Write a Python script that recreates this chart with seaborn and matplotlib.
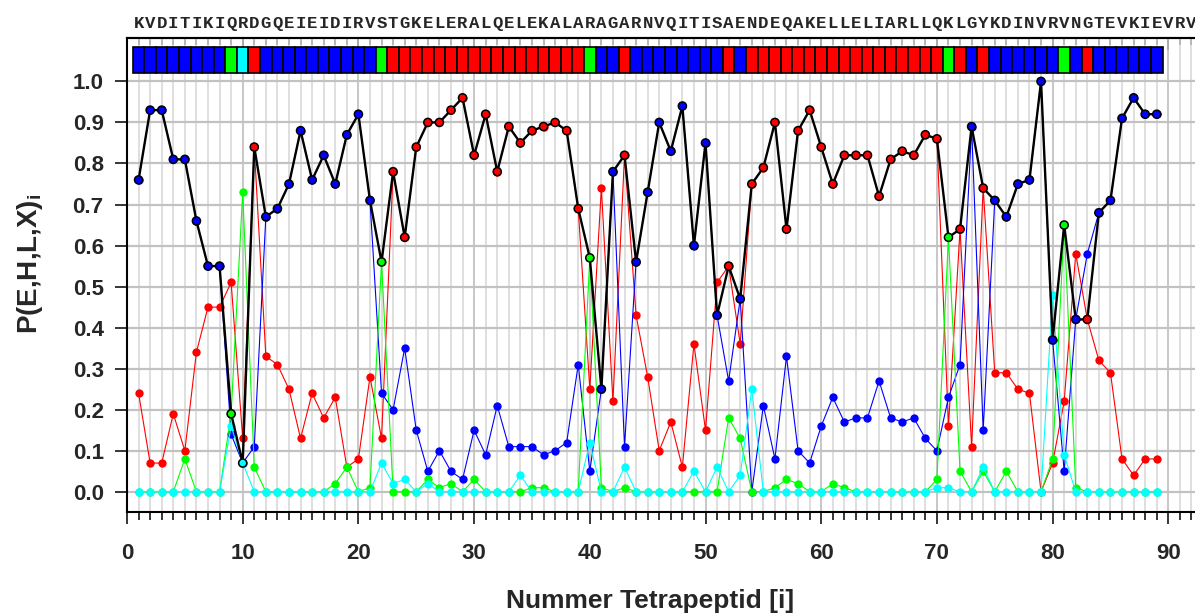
import matplotlib
matplotlib.use("Agg")
import matplotlib.pyplot as plt
import matplotlib.transforms as mtransforms
from matplotlib.ticker import MultipleLocator
import numpy as np
import pandas as pd
import seaborn as sns

# ---------------- data ----------------
sequence = "KVDITIKIQRDGQEIEIDIRVSTGKELERALQELEKALARAGARNVQITISAENDEQAKELLELIARLLQKLGYKDINVRVNGTEVKIEVRV"

positions = list(range(1, 90))

# P(E) – blue
p_E = [0.76, 0.93, 0.93, 0.81, 0.81, 0.66, 0.55, 0.55, 0.14, 0.07,
       0.11, 0.67, 0.69, 0.75, 0.88, 0.76, 0.82, 0.75, 0.87, 0.92,
       0.71, 0.24, 0.20, 0.35, 0.15, 0.05, 0.10, 0.05, 0.03, 0.15,
       0.09, 0.21, 0.11, 0.11, 0.11, 0.09, 0.10, 0.12, 0.31, 0.05,
       0.25, 0.78, 0.11, 0.56, 0.73, 0.90, 0.83, 0.94, 0.60, 0.85,
       0.43, 0.27, 0.47, 0.00, 0.21, 0.08, 0.33, 0.10, 0.07, 0.16,
       0.23, 0.17, 0.18, 0.18, 0.27, 0.18, 0.17, 0.18, 0.13, 0.10,
       0.23, 0.31, 0.89, 0.15, 0.71, 0.67, 0.75, 0.76, 1.00, 0.37,
       0.05, 0.42, 0.58, 0.68, 0.71, 0.91, 0.96, 0.92, 0.92]

# P(H) – red
p_H = [0.24, 0.07, 0.07, 0.19, 0.10, 0.34, 0.45, 0.45, 0.51, 0.13,
       0.84, 0.33, 0.31, 0.25, 0.13, 0.24, 0.18, 0.23, 0.06, 0.08,
       0.28, 0.13, 0.78, 0.62, 0.84, 0.90, 0.90, 0.93, 0.96, 0.82,
       0.92, 0.78, 0.89, 0.85, 0.88, 0.89, 0.90, 0.88, 0.69, 0.25,
       0.74, 0.22, 0.82, 0.43, 0.28, 0.10, 0.17, 0.06, 0.36, 0.15,
       0.51, 0.55, 0.36, 0.75, 0.79, 0.90, 0.64, 0.88, 0.93, 0.84,
       0.75, 0.82, 0.82, 0.82, 0.72, 0.81, 0.83, 0.82, 0.87, 0.86,
       0.16, 0.64, 0.11, 0.74, 0.29, 0.29, 0.25, 0.24, 0.00, 0.07,
       0.22, 0.58, 0.42, 0.32, 0.29, 0.08, 0.04, 0.08, 0.08]

# P(L) – green
p_L = [0.00, 0.00, 0.00, 0.00, 0.08, 0.00, 0.00, 0.00, 0.19, 0.73,
       0.06, 0.00, 0.00, 0.00, 0.00, 0.00, 0.00, 0.02, 0.06, 0.00,
       0.01, 0.56, 0.00, 0.00, 0.00, 0.03, 0.01, 0.02, 0.00, 0.03,
       0.00, 0.00, 0.00, 0.00, 0.01, 0.01, 0.00, 0.00, 0.00, 0.57,
       0.01, 0.00, 0.01, 0.00, 0.00, 0.00, 0.00, 0.00, 0.00, 0.00,
       0.00, 0.18, 0.13, 0.00, 0.00, 0.01, 0.03, 0.02, 0.00, 0.00,
       0.02, 0.01, 0.00, 0.00, 0.00, 0.00, 0.00, 0.00, 0.00, 0.03,
       0.62, 0.05, 0.00, 0.05, 0.00, 0.05, 0.00, 0.00, 0.00, 0.08,
       0.65, 0.01, 0.00, 0.00, 0.00, 0.00, 0.00, 0.00, 0.00]

# P(X) – cyan
p_X = [0.00, 0.00, 0.00, 0.00, 0.00, 0.00, 0.00, 0.00, 0.16, 0.07,
       0.00, 0.00, 0.00, 0.00, 0.00, 0.00, 0.00, 0.00, 0.00, 0.00,
       0.00, 0.07, 0.02, 0.03, 0.00, 0.02, 0.00, 0.00, 0.00, 0.00,
       0.00, 0.00, 0.00, 0.04, 0.00, 0.00, 0.00, 0.00, 0.00, 0.12,
       0.00, 0.00, 0.06, 0.00, 0.00, 0.00, 0.00, 0.00, 0.05, 0.00,
       0.06, 0.00, 0.04, 0.25, 0.00, 0.00, 0.00, 0.00, 0.00, 0.00,
       0.00, 0.00, 0.00, 0.00, 0.00, 0.00, 0.00, 0.00, 0.00, 0.01,
       0.01, 0.00, 0.00, 0.06, 0.00, 0.00, 0.00, 0.00, 0.00, 0.48,
       0.09, 0.00, 0.00, 0.00, 0.00, 0.00, 0.00, 0.00, 0.00]

# assigned state per tetrapeptide
assigned = ("E" * 8 + "L" + "X" + "H" + "E" * 10 + "L" + "H" * 17 + "L" + "EE" + "H"
            + "E" * 8 + "H" + "E" + "H" * 17 + "L" + "H" + "E" + "H" + "E" * 6
            + "L" + "E" + "H" + "E" * 6)

state_colors = {"E": "#0000ff", "H": "#ff0000", "L": "#00ff00", "X": "#00ffff"}

# ---------------- frame ----------------
series = {"E": p_E, "H": p_H, "L": p_L, "X": p_X}
df = pd.DataFrame({"pos": positions, "E": p_E, "H": p_H, "L": p_L, "X": p_X,
                   "state": list(assigned)})
df["p_assigned"] = [series[s][i] for i, s in enumerate(assigned)]

sns.set_style("white")
plt.rcParams["font.family"] = ["Liberation Sans", "DejaVu Sans"]
plt.rcParams["font.weight"] = "bold"
plt.rcParams["mathtext.fontset"] = "custom"
plt.rcParams["mathtext.rm"] = "Liberation Sans:bold"
plt.rcParams["mathtext.bf"] = "Liberation Sans:bold"
plt.rcParams["mathtext.it"] = "Liberation Sans:bold"

W, H = 1195, 616
fig = plt.figure(figsize=(W / 100, H / 100), dpi=100)

px_per_unit = 11.57
x0_px = 127
xmax = 95
ax_left = x0_px / W
ax_width = xmax * px_per_unit / W
ax_bottom = (H - 512.3) / H
ax_top = (H - 38.3) / H
ax = fig.add_axes([ax_left, ax_bottom, ax_width, ax_top - ax_bottom])
ax.set_xlim(0, xmax)
ax.set_ylim(-0.05, 1.105)

# grid
ax.set_xticks(np.arange(0, 100, 10))
ax.xaxis.set_minor_locator(MultipleLocator(1))
ax.set_yticks(np.round(np.arange(0, 1.01, 0.1), 1))
ax.grid(which="minor", axis="x", color="#d6d6d6", lw=1.1, zorder=0)
ax.grid(which="major", axis="x", color="#bdbdbd", lw=1.2, zorder=0)
ax.grid(which="major", axis="y", color="#c2c2c2", lw=1.6, zorder=0)
ax.set_axisbelow(True)

# probability series
line_kw = dict(marker="o", markersize=6.0, markeredgewidth=0, linewidth=0.8)
for key in ["H", "E", "L", "X"]:
    sns.lineplot(data=df, x="pos", y=key, color=state_colors[key], ax=ax,
                 zorder=3, **line_kw)

# assigned state probability (black line with state-coloured markers)
sns.lineplot(data=df, x="pos", y="p_assigned", color="black", linewidth=1.7,
             ax=ax, zorder=4)
sns.scatterplot(data=df, x="pos", y="p_assigned", hue="state",
                palette=state_colors, edgecolor="black", linewidth=1.1,
                s=34, legend=False, ax=ax, zorder=5)

# state bar at top
ax.bar(df["pos"], 0.065, bottom=1.02, width=1.0,
       color=[state_colors[s] for s in assigned], edgecolor="black",
       linewidth=1.2, zorder=6)

# sequence letters
trans = mtransforms.blended_transform_factory(ax.transData, ax.transAxes)
for k, ch in enumerate(sequence, start=1):
    ax.text(k, 1.0226, ch, transform=trans, ha="center", va="baseline",
            fontfamily="Liberation Mono", fontweight="bold", fontsize=12.5,
            clip_on=False)

# spines and ticks
for side in ["left", "bottom", "top"]:
    ax.spines[side].set_visible(True)
    ax.spines[side].set_color("black")
    ax.spines[side].set_linewidth(1.5)
ax.spines["right"].set_visible(False)

ax.tick_params(axis="x", which="major", direction="out", length=8.4, width=1.1,
               color="black", labelsize=16, pad=14, bottom=True, top=False)
ax.tick_params(axis="x", which="minor", direction="out", length=5.5, width=1.1,
               color="black", bottom=True, top=False)
ax.tick_params(axis="y", which="major", direction="out", length=8.4, width=1.1,
               color="black", labelsize=16, pad=8.4, left=True)
ax.set_yticklabels([f"{v:.1f}" for v in np.arange(0, 1.01, 0.1)])
for lbl in ax.get_xticklabels() + ax.get_yticklabels():
    lbl.set_fontweight("bold")

secax = ax.secondary_xaxis("top")
secax.set_xticks(np.arange(0, 100, 10))
secax.xaxis.set_minor_locator(MultipleLocator(1))
secax.tick_params(which="major", direction="in", length=8.4, width=1.1,
                  labeltop=False)
secax.tick_params(which="minor", direction="in", length=5.2, width=1.1)
secax.spines["top"].set_linewidth(1.5)

ax.set_xlabel("")
ax.set_ylabel("")
fig.text(650 / W, (H - 601) / H, "Nummer Tetrapeptid [i]", ha="center",
         va="center", fontsize=19, fontweight="bold")
fig.text(30 / W, (H - 264) / H, r"P(E,H,L,X)$_{\mathbf{i}}$", rotation=90,
         ha="center", va="center", fontsize=20, fontweight="bold")

fig.savefig("out.png", dpi=100)
